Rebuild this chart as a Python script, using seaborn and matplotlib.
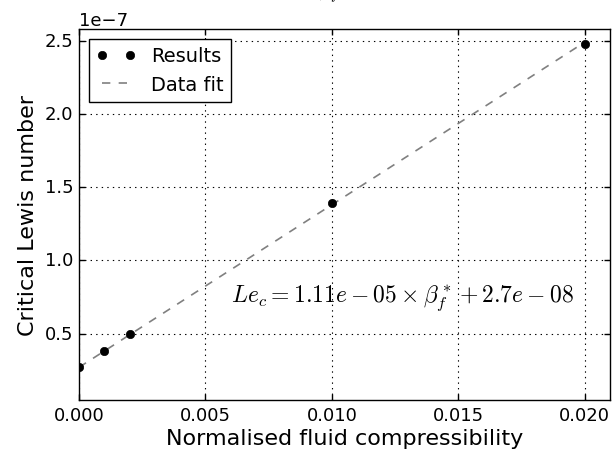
import matplotlib
matplotlib.use("Agg")
import matplotlib.pyplot as plt
import seaborn as sns
import numpy as np
import pandas as pd

# Data
compressibility = [0.0, 0.001, 0.002, 0.01, 0.02]
lewis = [0.275e-7, 0.382e-7, 0.495e-7, 1.39e-7, 2.48e-7]
slope = 1.11e-05
intercept = 2.7e-08
fit_x = [0.0, 0.02]
fit_y = [slope * v + intercept for v in fit_x]
x_ticks = [0.000, 0.005, 0.010, 0.015, 0.020]
y_ticks = [0.5e-7, 1.0e-7, 1.5e-7, 2.0e-7, 2.5e-7]

plt.style.use("classic")
sns.set_style("ticks", {"axes.grid": True, "grid.linestyle": ":", "grid.color": "k",
                        "xtick.direction": "in", "ytick.direction": "in"})
plt.rcParams["font.family"] = ["DejaVu Sans"]
plt.rcParams["mathtext.fontset"] = "cm"
plt.rcParams["figure.facecolor"] = "white"
plt.rcParams["savefig.facecolor"] = "white"
for key in ["text.color", "axes.labelcolor", "xtick.color", "ytick.color", "axes.edgecolor"]:
    plt.rcParams[key] = "black"

fig = plt.figure(figsize=(6.14, 4.56), dpi=100)
ax = fig.add_axes([79/614, 1-401/456, (610-79)/614, (401-30)/456])

df_pts = pd.DataFrame({"x": compressibility, "y": lewis})
df_fit = pd.DataFrame({"x": fit_x, "y": fit_y})

sns.lineplot(data=df_fit, x="x", y="y", ax=ax, color="gray", linestyle="--",
             linewidth=1.2, label="Data fit", legend=False, zorder=2)
ax.plot(df_pts["x"], df_pts["y"], "o", color="k", markersize=6, label="Results", zorder=3)

ax.set_xlim(0, 0.021)
ax.set_ylim(0.047e-7, 2.58e-7)
ax.set_xticks(x_ticks)
ax.set_xticklabels([f"{v:.3f}" for v in x_ticks])
ax.set_yticks(y_ticks)
ax.ticklabel_format(axis="y", style="sci", scilimits=(0, 0), useMathText=False)
ax.tick_params(direction="in", top=True, right=True, labelsize=13, length=4, width=1,
               colors="black")
ax.yaxis.get_offset_text().set_fontsize(13)
ax.grid(True, linestyle=":", color="k", linewidth=0.8)
for s in ax.spines.values():
    s.set_color("k")
    s.set_linewidth(1.0)

ax.set_xlabel("Normalised fluid compressibility", fontsize=16, labelpad=3, color="black")
ax.set_ylabel("Critical Lewis number", fontsize=16, color="black")

ax.text(0.006, 0.75e-7, r"$Le_c = 1.11e-05 \times \beta_f^* + 2.7e-08$", fontsize=17,
        va="center", ha="left", color="black")

handles, labels = ax.get_legend_handles_labels()
order = [labels.index("Results"), labels.index("Data fit")]
leg = ax.legend([handles[i] for i in order], [labels[i] for i in order], loc="upper left",
                numpoints=2, fontsize=14, frameon=True, fancybox=False, framealpha=1,
                edgecolor="k", handlelength=2.0)
leg.get_frame().set_linewidth(1.0)
for t in leg.get_texts():
    t.set_color("black")

fig.text(340/614, 1.007, r"$Le_c$ vs $\beta_f$", fontsize=14, ha="right", va="baseline",
         color="black")

fig.savefig("out.png", dpi=100)
